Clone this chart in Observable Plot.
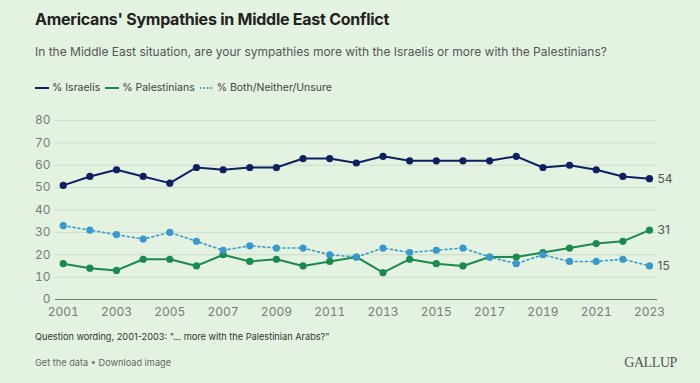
<!DOCTYPE html>
<html>
<head>
<meta charset="utf-8">
<script src="https://cdn.jsdelivr.net/npm/d3@7"></script>
<script src="https://cdn.jsdelivr.net/npm/@observablehq/plot@0.6"></script>
<style>
  html, body { margin: 0; padding: 0; background: #e3f2e1; }
  body { width: 700px; height: 383px; overflow: hidden; font-family: Inter, "Noto Sans", sans-serif; position: relative; }
  #title { position: absolute; left: 35px; top: 9px; font-size: 16px; font-weight: 700; color: #222; letter-spacing: -0.25px; }
  #subtitle { position: absolute; left: 35px; top: 44px; font-size: 12px; color: #555; }
  #legend { position: absolute; left: 35px; top: 81px; font-size: 10.5px; color: #444; display: flex; align-items: center; }
  #legend span.item { display: inline-flex; align-items: center; margin-right: 5px; }
  #legend svg { margin-right: 3px; }
  #chart { position: absolute; left: 0; top: 100px; }
  #caption { position: absolute; left: 35px; top: 331px; font-size: 9.2px; color: #333; }
  #links { position: absolute; left: 35px; top: 357px; font-size: 9.2px; color: #666; }
  #brand { position: absolute; right: 23px; top: 355px; font-family: "Liberation Serif", "DejaVu Serif", serif; font-size: 14px; color: #555; letter-spacing: -0.4px; }
</style>
</head>
<body>
<div id="title">Americans' Sympathies in Middle East Conflict</div>
<div id="subtitle">In the Middle East situation, are your sympathies more with the Israelis or more with the Palestinians?</div>
<div id="legend"></div>
<div id="chart"></div>
<div id="caption">Question wording, 2001-2003: "... more with the Palestinian Arabs?"</div>
<div id="links">Get the data • Download image</div>
<div id="brand">GALLUP</div>
<script>
const years = [2001,2002,2003,2004,2005,2006,2007,2008,2009,2010,2011,2012,2013,2014,2015,2016,2017,2018,2019,2020,2021,2022,2023];
const israelis =    [51,55,58,55,52,59,58,59,59,63,63,61,64,62,62,62,62,64,59,60,58,55,54];
const palestinians = [16,14,13,18,18,15,20,17,18,15,17,19,12,18,16,15,19,19,21,23,25,26,31];
const bothNeither = [33,31,29,27,30,26,22,24,23,23,20,19,23,21,22,23,19,16,20,17,17,18,15];
const seriesNames = ["% Israelis", "% Palestinians", "% Both/Neither/Unsure"];
const seriesColors = ["#0d2160", "#1b8a4c", "#3a98cc"];
const xTicks = [2001,2003,2005,2007,2009,2011,2013,2015,2017,2019,2021,2023];
const yTicks = [0,10,20,30,40,50,60,70,80];

const seriesValues = [israelis, palestinians, bothNeither];
const data = [];
seriesValues.forEach((vals, i) => vals.forEach((v, j) => data.push({series: seriesNames[i], year: years[j], value: v})));
const lastPoints = data.filter(d => d.year === years[years.length - 1]);

// Legend
const legend = document.getElementById("legend");
seriesNames.forEach((name, i) => {
  const item = document.createElement("span");
  item.className = "item";
  const dash = i === 2 ? 'stroke-dasharray="1.5,2"' : '';
  item.innerHTML = `<svg width="14" height="6"><line x1="0" y1="3" x2="14" y2="3" stroke="${seriesColors[i]}" stroke-width="2" ${dash}/></svg>${name}`;
  legend.appendChild(item);
});

const chart = Plot.plot({
  width: 700,
  height: 220,
  marginLeft: 55,
  marginRight: 43,
  marginTop: 20,
  marginBottom: 21,
  style: {background: "transparent", fontFamily: "Inter, 'Noto Sans', sans-serif", fontSize: "12px", color: "#7a7a7a"},
  x: {domain: [2000.71, 2023.3], ticks: xTicks, tickFormat: d => String(d), label: null, tickSize: 0, tickPadding: 8},
  y: {domain: [0, 80], ticks: yTicks, label: null, tickSize: 0, tickPadding: 5},
  color: {domain: seriesNames, range: seriesColors},
  marks: [
    Plot.gridY(yTicks.filter(t => t > 0), {stroke: "#cddccb", strokeOpacity: 1, strokeWidth: 1}),
    Plot.ruleY([0], {stroke: "#777", strokeWidth: 1.2}),
    Plot.axisX({ticks: xTicks, tickFormat: d => String(d), tickSize: 0, tickPadding: 8, fontSize: 12, fill: "#7a7a7a", label: null}),
    Plot.axisY({ticks: yTicks, tickSize: 0, tickPadding: 5, fontSize: 12, fill: "#7a7a7a", label: null}),
    Plot.line(data.filter(d => d.series !== seriesNames[2]), {x: "year", y: "value", z: "series", stroke: "series", strokeWidth: 2}),
    Plot.line(data.filter(d => d.series === seriesNames[2]), {x: "year", y: "value", stroke: "series", strokeWidth: 1.6, strokeDasharray: "2,3"}),
    Plot.dot(data, {x: "year", y: "value", fill: "series", r: 3.6}),
    Plot.text(lastPoints, {x: "year", y: "value", text: d => String(d.value), dx: 8, textAnchor: "start", fontSize: 12, fill: "#555"})
  ]
});
document.getElementById("chart").appendChild(chart);
</script>
</body>
</html>
